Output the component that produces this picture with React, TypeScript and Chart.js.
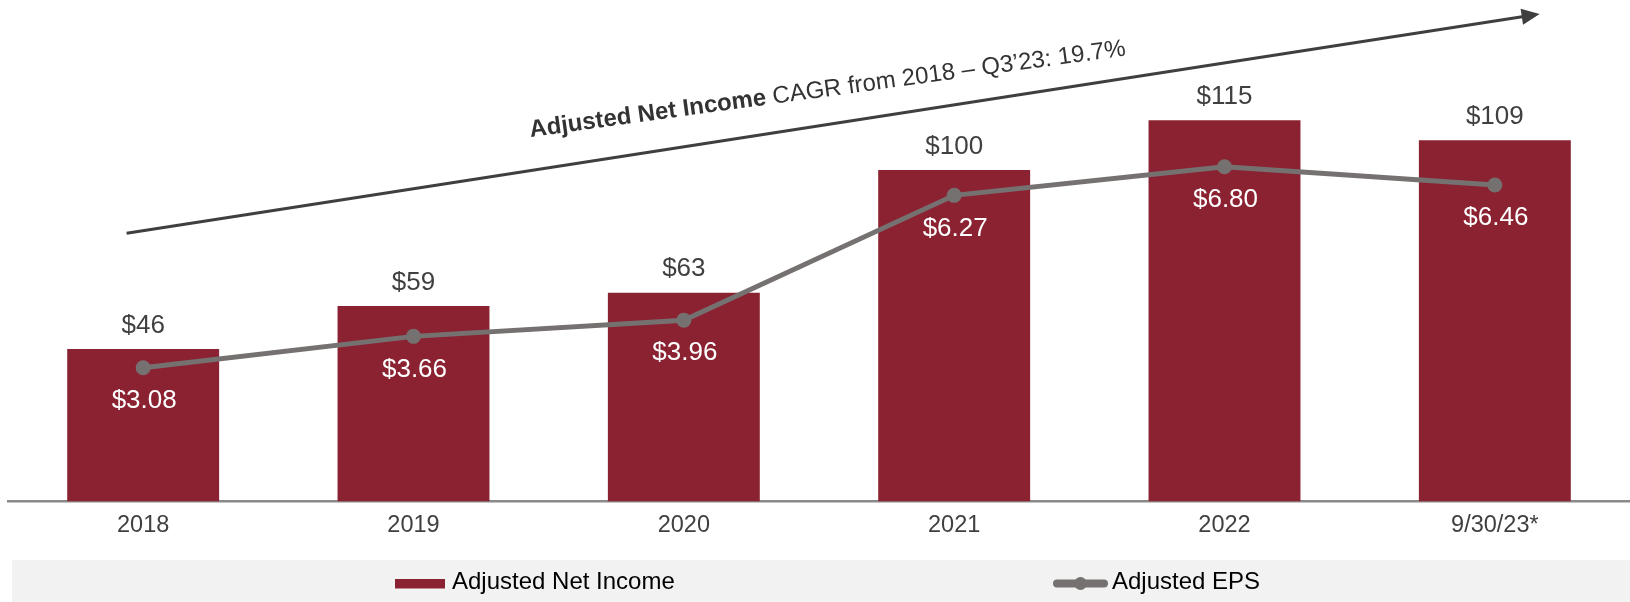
import React, { useEffect, useRef } from "react";
import { Chart, registerables } from "chart.js";

Chart.register(...registerables);

// ---------- data ----------
const categories = ["2018", "2019", "2020", "2021", "2022", "9/30/23*"];
const netIncome = [46, 59, 63, 100, 115, 109];
const eps = [3.08, 3.66, 3.96, 6.27, 6.8, 6.46];
const netIncomeLabels = ["$46", "$59", "$63", "$100", "$115", "$109"];
const epsLabels = ["$3.08", "$3.66", "$3.96", "$6.27", "$6.80", "$6.46"];
const seriesNames = ["Adjusted Net Income", "Adjusted EPS"];
const cagrBold = "Adjusted Net Income";
const cagrRest = " CAGR from 2018 \u2013 Q3\u201923: 19.7%";

// ---------- style ----------
const FONT = '"Liberation Sans", Arial, Helvetica, sans-serif';
const BAR_COLOR = "#8B2232";
const LINE_COLOR = "#767171";
const TEXT_DARK = "#404040";
const ARROW_COLOR = "#3F3F3F";

const valueLabelsPlugin = {
  id: "valueLabels",
  afterDatasetsDraw(chart: any) {
    const ctx = chart.ctx;
    const barMeta = chart.getDatasetMeta(0);
    const lineMeta = chart.getDatasetMeta(1);
    ctx.save();
    ctx.textAlign = "center";
    ctx.textBaseline = "middle";
    ctx.font = `26px ${FONT}`;
    ctx.fillStyle = TEXT_DARK;
    barMeta.data.forEach((el: any, i: number) => {
      ctx.fillText(netIncomeLabels[i], el.x, el.y - 23.5);
    });
    ctx.fillStyle = "#FFFFFF";
    lineMeta.data.forEach((el: any, i: number) => {
      ctx.fillText(epsLabels[i], el.x + 1, el.y + 33);
    });
    ctx.restore();
  },
};

const arrowPlugin = {
  id: "cagrArrow",
  afterDraw(chart: any) {
    const ctx = chart.ctx;
    const a = chart.chartArea;
    const x0 = a.left + 118.6;
    const y0 = a.top + 233.3;
    const x1 = a.left + 1531.6;
    const y1 = a.top + 14;
    const ang = Math.atan2(y1 - y0, x1 - x0);
    const headLen = 18;
    const headHalf = 8;
    ctx.save();
    ctx.strokeStyle = ARROW_COLOR;
    ctx.fillStyle = ARROW_COLOR;
    ctx.lineWidth = 3;
    const bx = x1 - headLen * Math.cos(ang);
    const by = y1 - headLen * Math.sin(ang);
    ctx.beginPath();
    ctx.moveTo(x0, y0);
    ctx.lineTo(bx + 2 * Math.cos(ang), by + 2 * Math.sin(ang));
    ctx.stroke();
    ctx.beginPath();
    ctx.moveTo(x1, y1);
    ctx.lineTo(bx + headHalf * Math.sin(ang), by - headHalf * Math.cos(ang));
    ctx.lineTo(bx - headHalf * Math.sin(ang), by + headHalf * Math.cos(ang));
    ctx.closePath();
    ctx.fill();

    // rotated CAGR caption
    ctx.translate(a.left + 522.5, a.top + 137);
    ctx.rotate((-7.8 * Math.PI) / 180);
    ctx.textAlign = "left";
    ctx.textBaseline = "alphabetic";
    ctx.fillStyle = "#333333";
    ctx.font = `bold 24px ${FONT}`;
    ctx.fillText(cagrBold, 0, 0);
    const w = ctx.measureText(cagrBold).width;
    ctx.font = `24px ${FONT}`;
    ctx.fillText(cagrRest, w, 0);
    ctx.restore();
  },
};

const legendPlugin = {
  id: "customLegend",
  afterDraw(chart: any) {
    const ctx = chart.ctx;
    const W = chart.width;
    const ds = chart.data.datasets;
    ctx.save();
    ctx.fillStyle = "#F2F2F2";
    ctx.fillRect(12, 560, W - 12, 42);
    // bar item
    ctx.fillStyle = ds[0].backgroundColor;
    ctx.fillRect(395, 579, 50, 9.5);
    ctx.fillStyle = "#000000";
    ctx.font = `24px ${FONT}`;
    ctx.textAlign = "left";
    ctx.textBaseline = "middle";
    ctx.fillText(ds[0].label, 452, 582);
    // line item
    ctx.strokeStyle = ds[1].borderColor;
    ctx.lineWidth = 8;
    ctx.lineCap = "round";
    ctx.beginPath();
    ctx.moveTo(1057, 583.5);
    ctx.lineTo(1104, 583.5);
    ctx.stroke();
    ctx.fillStyle = ds[1].borderColor;
    ctx.beginPath();
    ctx.arc(1080.5, 583.5, 6.5, 0, Math.PI * 2);
    ctx.fill();
    ctx.fillStyle = "#000000";
    ctx.fillText(ds[1].label, 1112, 582);
    ctx.restore();
  },
};

export default function App() {
  const canvasRef = useRef<HTMLCanvasElement | null>(null);

  useEffect(() => {
    const canvas = canvasRef.current;
    if (!canvas) return;
    const chart = new Chart(canvas, {
      type: "bar",
      data: {
        labels: categories,
        datasets: [
          {
            type: "bar",
            label: seriesNames[0],
            data: netIncome,
            backgroundColor: BAR_COLOR,
            borderWidth: 0,
            barPercentage: 0.562,
            categoryPercentage: 1.0,
            yAxisID: "y",
            order: 2,
          } as any,
          {
            type: "line",
            label: seriesNames[1],
            data: eps,
            borderColor: LINE_COLOR,
            backgroundColor: LINE_COLOR,
            borderWidth: 5,
            pointRadius: 7.5,
            pointBackgroundColor: LINE_COLOR,
            pointBorderWidth: 0,
            tension: 0,
            clip: false,
            yAxisID: "y2",
            order: 1,
          } as any,
        ],
      },
      options: {
        responsive: false,
        animation: false,
        devicePixelRatio: 1,
        layout: { autoPadding: false, padding: { left: 8, right: 0, top: 0, bottom: 0 } },
        plugins: {
          legend: { display: false },
          tooltip: { enabled: false },
        },
        scales: {
          x: {
            grid: { display: false, drawTicks: false },
            border: { display: true, color: "#8A8A8A", width: 2.5 },
            ticks: {
              color: TEXT_DARK,
              font: { family: FONT, size: 23.5 },
              padding: 10,
              maxRotation: 0,
            },
            afterFit: (scale: any) => {
              scale.height = 100.5;
            },
          },
          y: {
            display: false,
            min: 0,
            max: 151.3,
          },
          y2: {
            display: false,
            min: 0.604,
            max: 9.885,
          },
        },
      } as any,
      plugins: [valueLabelsPlugin, arrowPlugin, legendPlugin],
    });
    return () => chart.destroy();
  }, []);

  return (
    <div style={{ position: "fixed", left: 0, top: 0, width: 1630, height: 602, background: "#fff" }}>
      <canvas ref={canvasRef} width={1630} height={602} style={{ display: "block" }} />
    </div>
  );
}
